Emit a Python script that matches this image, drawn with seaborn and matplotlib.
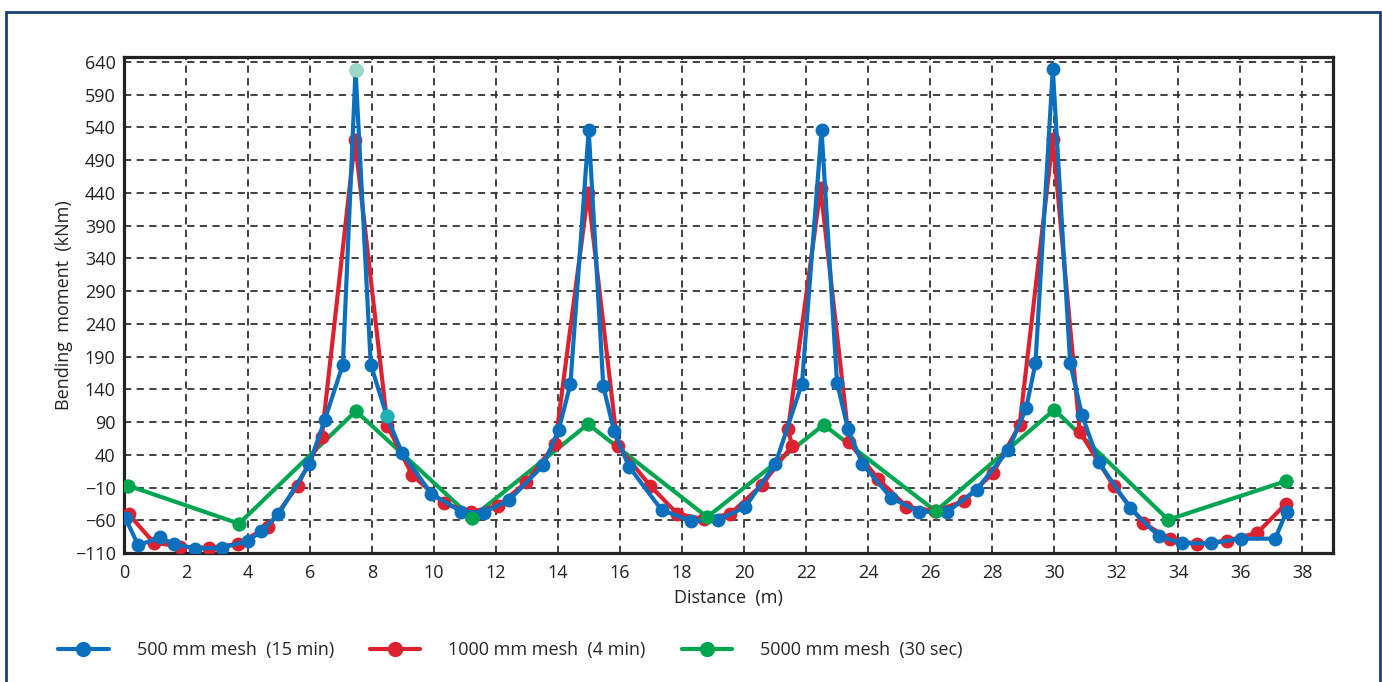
import matplotlib
matplotlib.use("Agg")
import matplotlib.pyplot as plt
from matplotlib.lines import Line2D
from matplotlib.patches import Rectangle
import seaborn as sns

# 500 mm mesh (15 min)
blue_x = [0.05, 0.46, 1.16, 1.6, 2.3, 3.16, 4.0, 4.43, 4.98, 5.98,
          6.48, 7.06, 7.47, 7.96, 8.48, 8.97, 9.91, 10.88, 11.6, 12.43,
          13.52, 14.02, 14.4, 14.99, 15.46, 15.81, 16.29, 17.34, 18.28, 19.17,
          20.03, 21.01, 21.87, 22.5, 23.0, 23.35, 23.82, 24.75, 25.65, 26.56,
          27.5, 28.52, 29.1, 29.4, 29.96, 30.52, 30.9, 31.44, 32.45, 33.37,
          34.12, 35.06, 36.03, 37.13, 37.5]
blue_y = [-57, -98, -86, -96, -103, -102, -91, -77, -51, 26,
          94, 178, 628, 178, 99, 43, -19, -47, -48, -29,
          24, 78, 148, 536, 145, 76, 22, -44, -61, -59,
          -40, 26, 149, 536, 150, 80, 26, -26, -47, -47,
          -13, 47, 111, 180, 629, 180, 101, 29, -41, -84,
          -95, -95, -88, -88, -47]

# 1000 mm mesh (4 min)
red_x = [0.16, 0.96, 1.82, 2.73, 3.68, 4.64, 5.6, 6.38, 7.45, 8.5,
         9.3, 10.32, 11.19, 12.06, 12.97, 13.91, 14.97, 15.92, 16.97, 17.85,
         18.7, 19.56, 20.57, 21.55, 21.42, 22.47, 23.39, 24.33, 25.24, 26.17,
         27.1, 28.03, 28.89, 29.96, 30.83, 31.93, 32.88, 33.74, 34.62, 35.59,
         36.56, 37.47]
red_y = [-51, -94, -100, -102, -96, -70, -7, 67, 521, 84,
         9, -34, -47, -38, -2, 57, 440, 54, -7, -50,
         -58, -50, -6, 54, 79, 447, 59, 3, -39, -46,
         -30, 12, 86, 522, 75, -8, -64, -89, -96, -91,
         -79, -35]

# 5000 mm mesh (30 sec)
green_x = [0.14, 3.71, 7.48, 11.22, 14.97, 18.81, 22.57, 26.18, 30.01, 33.68, 37.48]
green_y = [-7, -65, 107, -56, 87, -55, 86, -46, 109, -59, 0]

labels = ["500 mm mesh  (15 min)", "1000 mm mesh  (4 min)", "5000 mm mesh  (30 sec)"]
x_ticks = list(range(0, 39, 2))
y_ticks = list(range(-110, 641, 50))

BLUE = "#0a70bd"
RED = "#dc2130"
GREEN = "#00a550"
TXT = "#222222"

sns.set_style("white")
plt.rcParams["font.family"] = ["Open Sans", "DejaVu Sans"]

fig = plt.figure(figsize=(13.82, 6.82), dpi=100)
ax = fig.add_axes([0.0897, 0.189, 0.8749, 0.7274])

style = dict(marker="o", markersize=10, markeredgewidth=0, linewidth=3, sort=False, ax=ax)
sns.lineplot(x=green_x, y=green_y, color=GREEN, zorder=3, **style)
sns.lineplot(x=red_x, y=red_y, color=RED, zorder=4, **style)
sns.lineplot(x=blue_x, y=blue_y, color=BLUE, zorder=5, **style)
# green markers sit above the other lines
ax.plot(green_x, green_y, "o", color=GREEN, markersize=10, markeredgewidth=0, zorder=6)
# two blue points render in teal in the original
ax.plot([blue_x[12]], [blue_y[12]], "o", color="#9fd8c6", markersize=10, markeredgewidth=0, zorder=7)
ax.plot([blue_x[14]], [blue_y[14]], "o", color="#1fb0b4", markersize=10, markeredgewidth=0, zorder=7)

ax.set_xlim(0, 39)
ax.set_ylim(-110, 647.6)
ax.set_xticks(x_ticks)
ax.set_yticks(y_ticks)
ax.grid(True, linestyle=(0, (4, 3)), color="#333333", linewidth=1.3)
ax.set_axisbelow(True)
for s in ax.spines.values():
    s.set_linewidth(2.3)
    s.set_color(TXT)
ax.tick_params(axis="x", length=0, pad=8, labelsize=13, labelcolor=TXT)
ax.tick_params(axis="y", direction="in", length=4, width=1.3, color=TXT,
               pad=6, labelsize=13, labelcolor=TXT)
ax.set_xlabel("Distance  (m)", fontsize=13, color=TXT, labelpad=5)
ax.set_ylabel("Bending  moment  (kNm)", fontsize=13, color=TXT, labelpad=1.5)
if ax.get_legend() is not None:
    ax.get_legend().remove()

handles = [Line2D([0], [0], color=c, linewidth=3, marker="o", markersize=11, markeredgewidth=0)
           for c in (BLUE, RED, GREEN)]
fig.legend(handles, labels, loc="center left", bbox_to_anchor=(58 / 1382, 1 - 650 / 682),
           ncol=3, frameon=False, fontsize=13, handlelength=2.8, handletextpad=1.55,
           columnspacing=2.0, borderpad=0, borderaxespad=0)

fig.patches.append(Rectangle((6 / 1382, -0.05), 1374 / 1382, 1 - 12 / 682 + 0.05,
                             transform=fig.transFigure, fill=False,
                             edgecolor="#1c3f7c", linewidth=2, zorder=0))

fig.savefig("out.png", dpi=100)
